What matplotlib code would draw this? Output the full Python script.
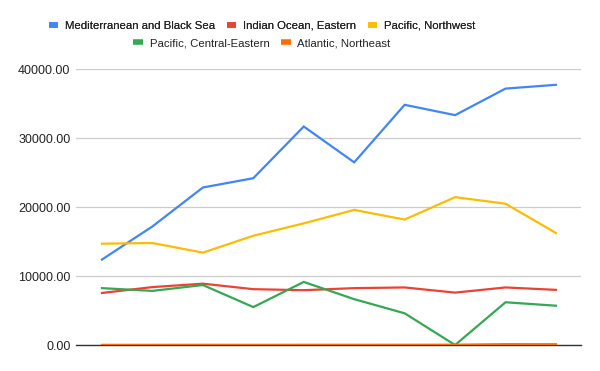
import matplotlib.pyplot as plt
from matplotlib.lines import Line2D
import numpy as np

plt.rcParams["font.family"] = ["Liberation Sans", "DejaVu Sans"]

SERIES_NAMES = [
    "Mediterranean and Black Sea",
    "Indian Ocean, Eastern",
    "Pacific, Northwest",
    "Pacific, Central-Eastern",
    "Atlantic, Northeast",
]
COLORS = ["#4285F4", "#EA4335", "#FBBC04", "#34A853", "#FF6D01"]

mediterranean = [12400, 17200, 22850, 24200, 31700, 26500, 34850, 33350, 37200, 37750]
indian_east = [7550, 8400, 8900, 8100, 7950, 8250, 8350, 7600, 8350, 8000]
pacific_nw = [14700, 14800, 13400, 15850, 17650, 19600, 18200, 21450, 20500, 16250]
pacific_ce = [8250, 7850, 8700, 5500, 9150, 6650, 4600, 0, 6200, 5700]
atlantic_ne = [20, 25, 30, 25, 30, 30, 35, 40, 120, 110]

Y_TICKS = [0, 10000, 20000, 30000, 40000]

values = [mediterranean, indian_east, pacific_nw, pacific_ce, atlantic_ne]

fig = plt.figure(figsize=(6, 3.71), dpi=100)
fig.patch.set_facecolor("white")
ax = fig.add_axes([76 / 600, 26 / 371, 505 / 600, 275.7 / 371])

x = np.arange(len(mediterranean))
for name, vals, color in zip(SERIES_NAMES, values, COLORS):
    ax.plot(x, vals, color=color, linewidth=1.6, solid_joinstyle="miter", label=name)

ax.set_xlim(-0.515, 9.496)
ax.set_ylim(0, 40000)
ax.set_yticks(Y_TICKS)
ax.set_yticklabels([f"{v:.2f}" for v in Y_TICKS], fontsize=9, color="#222222")
ax.set_xticks([])
ax.tick_params(axis="y", length=0, pad=4)
ax.grid(axis="y", color="#cccccc", linewidth=0.9)
ax.set_axisbelow(True)
for side in ["top", "right", "left"]:
    ax.spines[side].set_visible(False)
ax.spines["bottom"].set_color("#333333")
ax.spines["bottom"].set_linewidth(1.0)
ax.spines["bottom"].set_zorder(1)

handles = [Line2D([], [], color=c, linewidth=4, solid_capstyle="butt") for c in COLORS]
legend_kw = dict(
    frameon=False,
    fontsize=8.2,
    handlelength=0.85,
    handletextpad=0.6,
    columnspacing=1.0,
    borderaxespad=0,
    borderpad=0,
    labelcolor="#222222",
)
leg1 = fig.legend(handles[:3], SERIES_NAMES[:3], ncol=3, loc="center",
                  bbox_to_anchor=(262 / 600, 1 - 26 / 371), **legend_kw)
fig.add_artist(leg1)
fig.legend(handles[3:], SERIES_NAMES[3:], ncol=2, loc="center",
           bbox_to_anchor=(262 / 600, 1 - 43 / 371), **legend_kw)

fig.savefig("out.png", dpi=100)
